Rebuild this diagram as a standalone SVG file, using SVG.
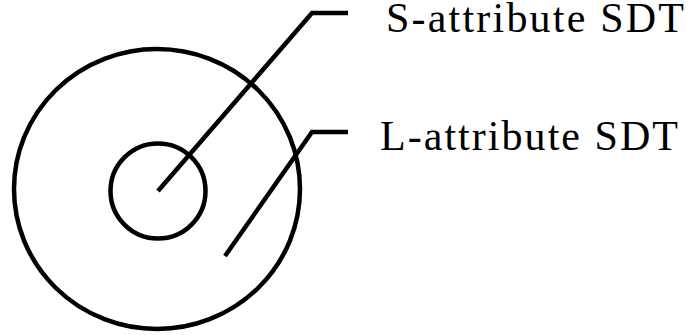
<svg xmlns="http://www.w3.org/2000/svg" width="689" height="335" viewBox="0 0 689 335">
<style>
.shape{fill:none;stroke:#000;stroke-width:4.5}
.conn{fill:none;stroke:#000;stroke-width:4.5;stroke-linejoin:miter;stroke-linecap:butt}
.lbl{font-family:'Liberation Serif','DejaVu Serif',serif;font-size:42px;fill:#000}
</style>
<rect width="689" height="335" fill="#fff"/>
<g id="outer-circle"><ellipse class="shape" cx="157" cy="189" rx="143" ry="140"/></g>
<g id="inner-circle"><circle class="shape" cx="158" cy="191" r="47.5"/></g>
<g id="connectors">
<polyline class="conn" points="158,191 312,13 348,13"/>
<polyline class="conn" points="225,256 312,132 348,132"/>
</g>
<g id="label-s"><text class="lbl" x="386" y="32" textLength="298" lengthAdjust="spacing">S-attribute SDT</text></g>
<g id="label-l"><text class="lbl" x="380" y="150" textLength="298" lengthAdjust="spacing">L-attribute SDT</text></g>
</svg>
